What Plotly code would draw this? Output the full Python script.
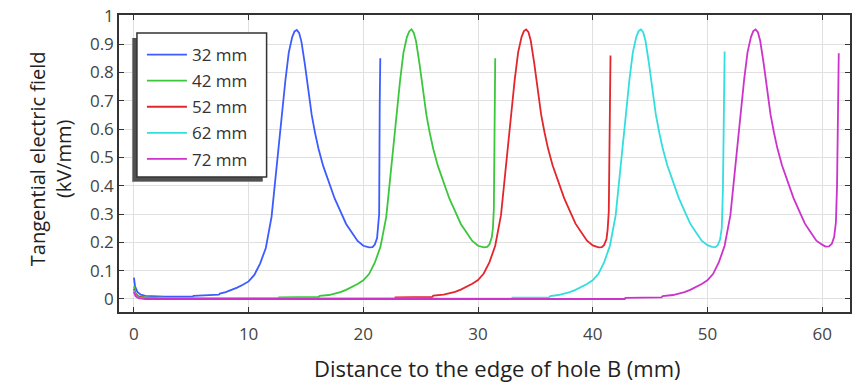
import plotly.graph_objects as go

# ---------------- data ----------------
labels = ["32 mm", "42 mm", "52 mm", "62 mm", "72 mm"]
colors = ["#3d5cff", "#3cc63c", "#e3262b", "#33dede", "#cc33cc"]

x_32 = [0, 0.1, 0.3, 0.6, 1.0, 2.0, 2.7, 5.1, 5.2, 7.4, 7.5, 8.0, 8.5, 9.0, 9.5, 10.0, 10.5,
        11.0, 11.5, 12.0, 12.3, 12.6, 12.9, 13.2, 13.5, 13.8, 14.0, 14.2, 14.4, 14.6, 14.9,
        15.2, 15.5, 15.8, 16.1, 16.5, 17.0, 17.5, 18.0, 18.5, 19.0, 19.5, 20.0, 20.5, 20.8,
        21.0, 21.2, 21.3, 21.38, 21.43, 21.48]
y_32 = [0.075, 0.045, 0.025, 0.015, 0.011, 0.009, 0.008, 0.008, 0.011, 0.015, 0.019, 0.024,
        0.031, 0.040, 0.050, 0.062, 0.085, 0.125, 0.180, 0.290, 0.410, 0.530, 0.660, 0.770,
        0.870, 0.925, 0.945, 0.950, 0.940, 0.910, 0.830, 0.740, 0.650, 0.585, 0.530, 0.470,
        0.410, 0.355, 0.310, 0.265, 0.235, 0.205, 0.188, 0.182, 0.183, 0.192, 0.215, 0.250,
        0.300, 0.686, 0.850]

x_42 = [0, 0.15, 0.4, 1.0, 2.6, 2.7, 12.6, 12.65, 16.1, 16.2, 17.0, 17.5, 18.0, 18.5, 19.0,
        19.5, 20.0, 20.5, 21.0, 21.5, 22.0, 22.3, 22.6, 22.9, 23.2, 23.5, 23.8, 24.0, 24.2,
        24.4, 24.6, 24.9, 25.2, 25.5, 25.8, 26.1, 26.5, 27.0, 27.5, 28.0, 28.5, 29.0, 29.5,
        30.0, 30.5, 30.8, 31.0, 31.2, 31.3, 31.38, 31.44, 31.5]
y_42 = [0.045, 0.020, 0.010, 0.006, 0.005, 0.002, 0.002, 0.006, 0.007, 0.011, 0.014, 0.018,
        0.024, 0.032, 0.042, 0.053, 0.066, 0.088, 0.128, 0.185, 0.290, 0.410, 0.530, 0.660,
        0.770, 0.870, 0.925, 0.945, 0.952, 0.940, 0.910, 0.830, 0.740, 0.650, 0.585, 0.530,
        0.470, 0.410, 0.355, 0.310, 0.265, 0.235, 0.205, 0.188, 0.182, 0.184, 0.193, 0.218,
        0.250, 0.320, 0.600, 0.850]

x_52 = [0, 0.15, 0.4, 1.0, 2.0, 2.1, 22.75, 22.8, 26.0, 26.1, 27.0, 27.5, 28.0, 28.5, 29.0,
        29.5, 30.0, 30.5, 31.0, 31.5, 32.0, 32.3, 32.6, 32.9, 33.2, 33.5, 33.8, 34.0, 34.2,
        34.4, 34.6, 34.9, 35.2, 35.5, 35.8, 36.1, 36.5, 37.0, 37.5, 38.0, 38.5, 39.0, 39.5,
        40.0, 40.5, 40.8, 41.0, 41.2, 41.3, 41.4, 41.48, 41.55]
y_52 = [0.035, 0.015, 0.007, 0.004, 0.003, 0.001, 0.001, 0.006, 0.007, 0.012, 0.015, 0.019,
        0.025, 0.033, 0.043, 0.054, 0.067, 0.090, 0.130, 0.188, 0.295, 0.415, 0.535, 0.665,
        0.775, 0.872, 0.926, 0.946, 0.952, 0.942, 0.912, 0.833, 0.743, 0.652, 0.588, 0.532,
        0.472, 0.412, 0.357, 0.311, 0.266, 0.236, 0.206, 0.189, 0.182, 0.183, 0.191, 0.212,
        0.245, 0.310, 0.560, 0.860]

x_62 = [0, 0.15, 0.4, 1.0, 32.95, 33.0, 36.2, 36.3, 37.0, 37.5, 38.0, 38.5, 39.0, 39.5, 40.0,
        40.5, 41.0, 41.5, 42.0, 42.3, 42.6, 42.9, 43.2, 43.5, 43.8, 44.0, 44.2, 44.4, 44.6,
        44.9, 45.2, 45.5, 45.8, 46.1, 46.5, 47.0, 47.5, 48.0, 48.5, 49.0, 49.5, 50.0, 50.4,
        50.7, 50.9, 51.1, 51.25, 51.35, 51.42, 51.5]
y_62 = [0.030, 0.012, 0.005, 0.002, 0.001, 0.005, 0.006, 0.010, 0.014, 0.018, 0.024, 0.032,
        0.042, 0.053, 0.066, 0.089, 0.130, 0.188, 0.295, 0.415, 0.535, 0.665, 0.775, 0.872,
        0.926, 0.946, 0.952, 0.942, 0.912, 0.833, 0.743, 0.652, 0.588, 0.532, 0.472, 0.412,
        0.357, 0.311, 0.266, 0.236, 0.206, 0.190, 0.184, 0.183, 0.190, 0.210, 0.250, 0.385,
        0.700, 0.874]

x_72 = [0, 0.15, 0.4, 1.0, 42.8, 42.85, 46.0, 46.1, 47.0, 47.5, 48.0, 48.5, 49.0, 49.5, 50.0,
        50.5, 51.0, 51.5, 52.0, 52.3, 52.6, 52.9, 53.2, 53.5, 53.8, 54.0, 54.2, 54.4, 54.6,
        54.9, 55.2, 55.5, 55.8, 56.1, 56.5, 57.0, 57.5, 58.0, 58.5, 59.0, 59.5, 60.0, 60.3,
        60.6, 60.85, 61.05, 61.2, 61.3, 61.38, 61.45]
y_72 = [0.025, 0.010, 0.003, 0.000, 0.000, 0.004, 0.006, 0.010, 0.014, 0.018, 0.024, 0.032,
        0.042, 0.053, 0.066, 0.089, 0.130, 0.188, 0.295, 0.415, 0.535, 0.665, 0.775, 0.872,
        0.926, 0.946, 0.952, 0.942, 0.912, 0.833, 0.743, 0.652, 0.588, 0.532, 0.472, 0.412,
        0.357, 0.311, 0.266, 0.236, 0.206, 0.192, 0.185, 0.186, 0.195, 0.220, 0.270, 0.400,
        0.620, 0.868]

xs = [x_32, x_42, x_52, x_62, x_72]
ys = [y_32, y_42, y_52, y_62, y_72]

x_ticks = [0, 10, 20, 30, 40, 50, 60]
y_ticks = [0, 0.1, 0.2, 0.3, 0.4, 0.5, 0.6, 0.7, 0.8, 0.9, 1]

x_title = "Distance to the edge of hole B (mm)"
y_title = "Tangential electric field<br>(kV/mm)"

# ---------------- layout geometry (pixels) ----------------
W, H = 853, 385
L, R, T, B = 119, 852, 15, 312
PW, PH = R - L, B - T


def px(x):
    return (x - L) / PW


def py(y):
    return (B - y) / PH


fig = go.Figure()
for xv, yv, name, c in zip(xs, ys, labels, colors):
    fig.add_trace(go.Scatter(x=xv, y=yv, mode="lines", name=name, legendgroup=name,
                             line=dict(color=c, width=1.8)))

axis_common = dict(
    showline=True, linecolor="#333333", linewidth=1.5, mirror="ticks",
    ticks="inside", ticklen=5, tickwidth=1, tickcolor="#333333",
    showgrid=True, gridcolor="#e0e0e0", gridwidth=1, zeroline=False,
    tickfont=dict(family="Open Sans", size=17, color="#444444"),
)

fig.update_layout(
    width=W, height=H,
    margin=dict(l=L, r=W - R, t=T, b=H - B, pad=0),
    paper_bgcolor="white", plot_bgcolor="white",
    showlegend=True,
    legend=dict(x=px(142), y=py(37), xanchor="left", yanchor="top",
                bgcolor="rgba(0,0,0,0)", borderwidth=0,
                font=dict(family="Open Sans", size=17, color="#333333"),
                traceorder="grouped", tracegroupgap=1, itemwidth=40),
    xaxis=dict(range=[-1.3, 62.43], tickvals=x_ticks, ticklabelstandoff=6, **axis_common),
    yaxis=dict(range=[-0.046, 1.003], tickvals=y_ticks, ticklabelstandoff=0, **axis_common),
    shapes=[
        dict(type="rect", xref="paper", yref="paper", layer="above",
             x0=px(132), x1=px(263), y0=py(182), y1=py(38),
             fillcolor="#8a8a8a", line=dict(width=0)),
        dict(type="rect", xref="paper", yref="paper", layer="above",
             x0=px(133), x1=px(263), y0=py(181), y1=py(38),
             fillcolor="#505050", line=dict(width=0)),
        dict(type="rect", xref="paper", yref="paper", layer="above",
             x0=px(137), x1=px(267), y0=py(177), y1=py(33),
             fillcolor="white", line=dict(color="#333333", width=1.5)),
    ],
    annotations=[
        dict(text=x_title, xref="paper", yref="paper", x=px(499), y=py(368),
             xanchor="center", yanchor="middle", showarrow=False,
             font=dict(family="Open Sans", size=22, color="#222222")),
        dict(text=y_title, xref="paper", yref="paper", x=px(50), y=py(159),
             xanchor="center", yanchor="middle", showarrow=False, textangle=-90,
             font=dict(family="Open Sans", size=20, color="#222222")),
    ],
)

fig.write_html("out.html")
